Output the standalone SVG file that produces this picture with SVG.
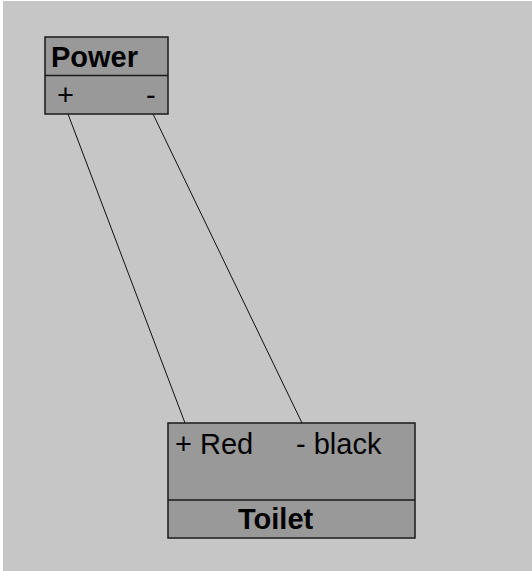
<svg xmlns="http://www.w3.org/2000/svg" width="532" height="571" viewBox="0 0 532 571">
<style>
.box{fill:#999999;stroke:#1a1a1a;stroke-width:1.5}
.div{stroke:#1a1a1a;stroke-width:1.5}
.wire{stroke:#111;stroke-width:1;fill:none}
.t{font-family:"Liberation Sans",Arial,sans-serif;font-size:29px;fill:#000}
.b{font-weight:bold}
</style>
<rect x="0" y="0" width="532" height="571" fill="#ffffff"/>
<rect x="3" y="1" width="529" height="570" fill="#c6c6c6"/>
<g id="connectors">
<line class="wire" x1="68" y1="114" x2="185" y2="423"/>
<line class="wire" x1="153" y1="114" x2="302" y2="423"/>
</g>
<g id="power">
<rect class="box" x="45" y="37" width="123" height="77"/>
<line class="div" x1="45" y1="75.5" x2="168" y2="75.5"/>
<text class="t b" x="51" y="67" textLength="87" lengthAdjust="spacingAndGlyphs">Power</text>
<text class="t" x="57" y="105">+</text>
<text class="t" x="146" y="105">-</text>
</g>
<g id="toilet">
<rect class="box" x="168" y="423" width="247" height="115"/>
<line class="div" x1="168" y1="500" x2="415" y2="500"/>
<text class="t" x="175" y="454">+ Red</text>
<text class="t" x="296" y="454">- black</text>
<text class="t b" x="238" y="529">Toilet</text>
</g>
</svg>
